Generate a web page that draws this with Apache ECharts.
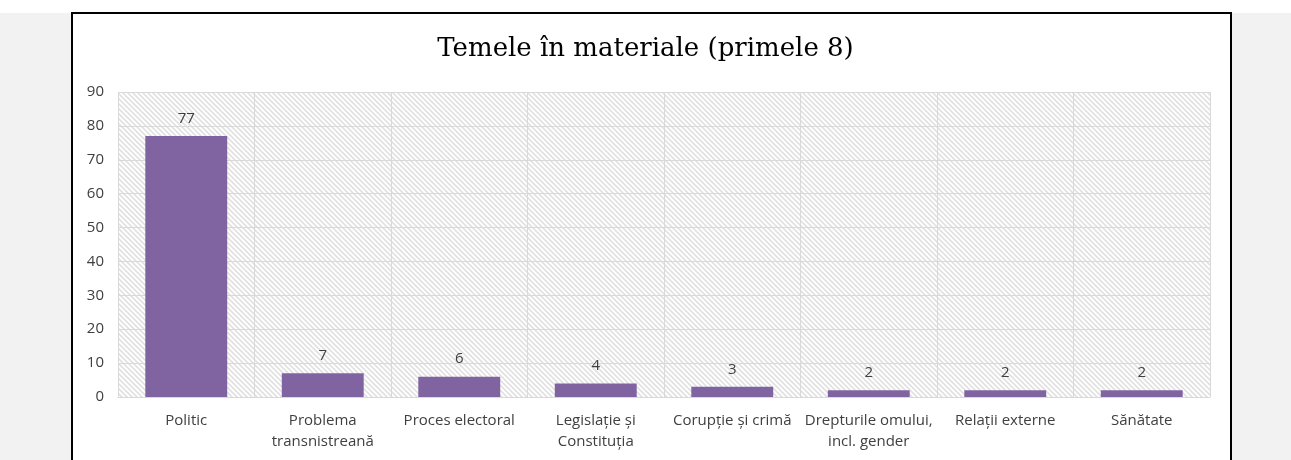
<!DOCTYPE html>
<html><head><meta charset="utf-8">
<script src="https://cdn.jsdelivr.net/npm/echarts@6/dist/echarts.min.js"></script>
<style>
html,body{margin:0;padding:0;background:#fff;}
#wrap{position:relative;width:1291px;height:460px;overflow:hidden;background:#fff;}
#gray{position:absolute;left:0;top:13px;width:1291px;height:447px;background:#f2f2f2;}
#box{position:absolute;left:71px;top:12px;width:1157px;height:470px;background:#fff;border:2px solid #000;}
#chart{position:absolute;left:0;top:0;width:1291px;height:460px;}
</style></head>
<body><div id="wrap"><div id="gray"></div><div id="box"></div><div id="chart"></div></div>
<script>
const titleText = 'Temele în materiale (primele 8)';
const categories = ['Politic','Problema\ntransnistreană','Proces electoral','Legislație și\nConstituția','Corupție și crimă','Drepturile omului,\nincl. gender','Relații externe','Sănătate'];
const values = [77,7,6,4,3,2,2,2];
const yTicks = {min:0,max:90,interval:10};

// hatch pattern (diagonal "\" lines)
const P = 5;
const pc = document.createElement('canvas');
pc.width = P; pc.height = P;
const g = pc.getContext('2d');
g.fillStyle = '#ffffff'; g.fillRect(0,0,P,P);
g.strokeStyle = '#e1e1e1'; g.lineWidth = 1.6;
g.beginPath();
for (let k = -1; k <= 1; k++) {
  g.moveTo(k*P - 1, -1); g.lineTo(k*P + P + 1, P + 1);
}
g.stroke();

const chart = echarts.init(document.getElementById('chart'), null, {renderer:'canvas'});
chart.setOption({
  backgroundColor:'transparent',
  animation:false,
  title:{text:titleText,left:'center',top:31,textStyle:{fontFamily:'DejaVu Serif',fontSize:26,fontWeight:'normal',color:'#000'}},
  grid:{left:118,right:81,top:92,bottom:63,show:true,backgroundColor:{image:pc,repeat:'repeat'},borderWidth:0},
  xAxis:{type:'category',data:categories,
    axisLine:{lineStyle:{color:'#d9d9d9'}},axisTick:{show:false},
    splitLine:{show:true,lineStyle:{color:'#d9d9d9',width:1}},
    axisLabel:{interval:0,color:'#404040',fontFamily:'Open Sans',fontSize:15,lineHeight:21,margin:13}},
  yAxis:{type:'value',min:yTicks.min,max:yTicks.max,interval:yTicks.interval,
    axisLine:{show:false},axisTick:{show:false},
    splitLine:{lineStyle:{color:'#d9d9d9',width:1}},
    axisLabel:{color:'#404040',fontFamily:'Open Sans',fontSize:15,margin:14}},
  series:[{type:'bar',data:values,barWidth:'60%',itemStyle:{color:'#8064a2'},
    label:{show:true,position:'top',distance:10,color:'#404040',fontFamily:'Open Sans',fontSize:15}}]
});
</script></body></html>
